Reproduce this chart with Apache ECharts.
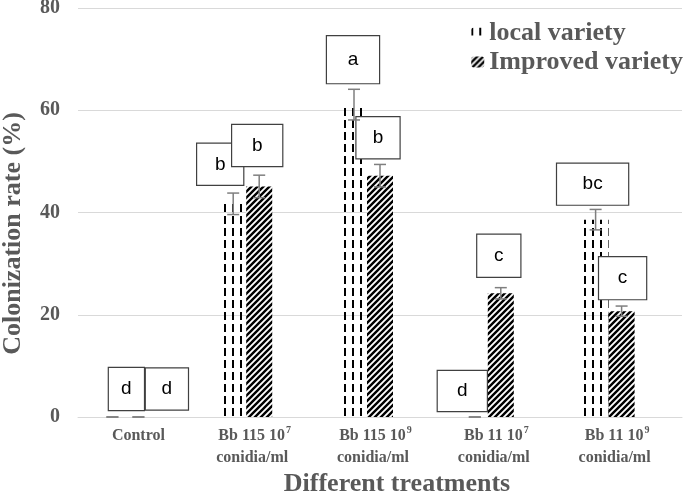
<!DOCTYPE html>
<html>
<head>
<meta charset="utf-8">
<script src="https://cdn.jsdelivr.net/npm/echarts@6/dist/echarts.min.js"></script>
<style>
  html, body { margin: 0; padding: 0; background: #ffffff; }
  #chart { width: 685px; height: 493px; }
</style>
</head>
<body>
<div id="chart"></div>
<script>
// ---------------- data ----------------
const categories = [
  'Control',
  'Bb 115 10^7 conidia/ml',
  'Bb 115 10^9 conidia/ml',
  'Bb 11 10^7 conidia/ml',
  'Bb 11 10^9 conidia/ml'
];
const seriesNames = ['local variety', 'Improved variety'];
const localValues = [0, 41.7, 61.1, 0, 38.6];
const localErrors = [0, 2.1, 3.0, 0, 2.0];
const improvedValues = [0, 45.1, 47.2, 24.2, 20.7];
const improvedErrors = [0, 2.2, 2.2, 1.1, 1.0];
const localLetters = ['d', 'b', 'a', 'd', 'bc'];
const improvedLetters = ['d', 'b', 'b', 'c', 'c'];
const yMin = 0, yMax = 80, yInterval = 20;
const yAxisTitle = 'Colonization rate (%)';
const xAxisTitle = 'Different treatments';

// ---------------- layout / style (not data) ----------------
const BAR_W = 26;
const GREY = '#595959';
const SERIF = '"Liberation Serif", "Times New Roman", serif';
// letter boxes: width, height, offset of box centre from bar top centre
const localBoxLayout = [
  { w: 35, h: 42, dx: 14, dy: -28 },
  { w: 46, h: 41, dx: -13, dy: -39.5 },
  { w: 52, h: 47, dx: -1, dy: -45 },
  { w: 49, h: 40, dx: -12.5, dy: -26 },
  { w: 71, h: 41, dx: -3, dy: -35.5 }
];
const improvedBoxLayout = [
  { w: 42, h: 41, dx: 28.5, dy: -28 },
  { w: 50, h: 41, dx: -2, dy: -41 },
  { w: 43, h: 41, dx: -2, dy: -38 },
  { w: 43, h: 42, dx: -2, dy: -37.5 },
  { w: 47, h: 42, dx: 1, dy: -33 }
];

function makeDashPattern() {
  const c = document.createElement('canvas');
  c.width = 8; c.height = 12;
  const ctx = c.getContext('2d');
  ctx.fillStyle = '#000';
  ctx.fillRect(0, 0, 2, 8);
  return c;
}
function makeHatchPattern() {
  const c = document.createElement('canvas');
  c.width = 6; c.height = 6;
  const ctx = c.getContext('2d');
  ctx.fillStyle = '#fff';
  ctx.fillRect(0, 0, 6, 6);
  ctx.strokeStyle = '#000';
  ctx.lineWidth = 2.4;
  ctx.beginPath();
  ctx.moveTo(-6, 6); ctx.lineTo(6, -6);
  ctx.moveTo(0, 6); ctx.lineTo(6, 0);
  ctx.moveTo(0, 12); ctx.lineTo(12, 0);
  ctx.stroke();
  return c;
}
const dashFill = { image: makeDashPattern(), repeat: 'repeat' };
const hatchFill = { image: makeHatchPattern(), repeat: 'repeat' };

function barData(values, letters, layout) {
  return values.map((v, i) => ({
    value: v,
    label: {
      show: true,
      position: 'top',
      distance: 0,
      formatter: letters[i],
      width: layout[i].w,
      height: layout[i].h,
      lineHeight: layout[i].h,
      align: 'center',
      verticalAlign: 'middle',
      offset: [layout[i].dx, layout[i].dy],
      backgroundColor: '#ffffff',
      borderColor: '#404040',
      borderWidth: 1.2,
      padding: 0,
      color: '#000',
      fontSize: 19,
      fontFamily: '"Liberation Sans", Arial, sans-serif'
    }
  }));
}

function errData(values, errors) {
  return values.map((v, i) => [i, v, errors[i]]);
}
function errRender(shift) {
  return function (params, api) {
    const i = api.value(0), v = api.value(1), e = api.value(2);
    const top = api.coord([i, v + e]);
    const bot = api.coord([i, v - e]);
    const x = top[0] + shift;
    const cap = 6;
    const st = { stroke: '#7f7f7f', lineWidth: 1.5, fill: null };
    return {
      type: 'group',
      children: [
        { type: 'line', shape: { x1: x, y1: top[1], x2: x, y2: bot[1] }, style: st },
        { type: 'line', shape: { x1: x - cap, y1: top[1], x2: x + cap, y2: top[1] }, style: st },
        { type: 'line', shape: { x1: x - cap, y1: bot[1], x2: x + cap, y2: bot[1] }, style: st }
      ]
    };
  };
}

const chart = echarts.init(document.getElementById('chart'), null, { renderer: 'canvas' });
const option = {
  animation: false,
  backgroundColor: '#ffffff',
  grid: { left: 78, right: 3, top: 8, bottom: 76, containLabel: false, outerBoundsMode: 'none' },
  legend: {
    data: seriesNames,
    orient: 'vertical',
    right: 2,
    top: 20,
    padding: 0,
    itemWidth: 13,
    itemHeight: 11,
    itemGap: 3,
    textStyle: { fontFamily: SERIF, fontWeight: 'bold', fontSize: 26, color: GREY }
  },
  xAxis: {
    type: 'category',
    data: categories,
    axisLine: { show: true, lineStyle: { color: '#d9d9d9', width: 1 } },
    axisTick: { show: false },
    name: xAxisTitle,
    nameLocation: 'middle',
    nameGap: 45,
    nameTextStyle: { fontFamily: SERIF, fontWeight: 'bold', fontSize: 26, color: GREY, padding: [0, 0, 0, 34] },
    axisLabel: {
      interval: 0,
      margin: 8,
      formatter: function (v) {
        const parts = v.split(' conidia/ml');
        if (parts.length === 1) return '{t|' + v + '}';
        const be = parts[0].split('^');
        return '{t|' + be[0] + '}{s|' + be[1] + '}{p1| }\n{t|conidia/ml}{p2| }';
      },
      rich: {
        t: { fontFamily: SERIF, fontWeight: 'bold', fontSize: 16, color: GREY, lineHeight: 22 },
        s: { fontFamily: SERIF, fontWeight: 'bold', fontSize: 10, color: GREY, lineHeight: 10, verticalAlign: 'top', padding: [0, 0, 0, 1] },
        p1: { fontSize: 10, width: 9 },
        p2: { fontSize: 10, width: 14 }
      }
    }
  },
  yAxis: {
    type: 'value',
    min: yMin, max: yMax, interval: yInterval,
    axisLine: { show: false },
    axisTick: { show: false },
    splitLine: { lineStyle: { color: '#d9d9d9', width: 1 } },
    axisLabel: { margin: 18, fontFamily: SERIF, fontWeight: 'bold', fontSize: 20, color: GREY },
    name: yAxisTitle,
    nameLocation: 'middle',
    nameGap: 52,
    nameTextStyle: { fontFamily: SERIF, fontWeight: 'bold', fontSize: 26, color: GREY, padding: [0, 42, 0, 0] }
  },
  series: [
    {
      name: seriesNames[0], type: 'bar', barWidth: BAR_W, barGap: '0%',
      itemStyle: { color: dashFill },
      data: barData(localValues, localLetters, localBoxLayout),
      z: 2
    },
    {
      name: seriesNames[1], type: 'bar', barWidth: BAR_W, barGap: '0%',
      itemStyle: { color: hatchFill },
      data: barData(improvedValues, improvedLetters, improvedBoxLayout),
      z: 2
    },
    {
      name: 'spacer', type: 'bar', barWidth: BAR_W, barGap: '0%',
      data: categories.map(() => null), silent: true
    },
    {
      name: 'local err', type: 'custom', renderItem: errRender(-BAR_W),
      data: errData(localValues, localErrors), z: 3, silent: true
    },
    {
      name: 'improved err', type: 'custom', renderItem: errRender(0),
      data: errData(improvedValues, improvedErrors), z: 3, silent: true
    }
  ]
};
chart.setOption(option);
</script>
</body>
</html>
